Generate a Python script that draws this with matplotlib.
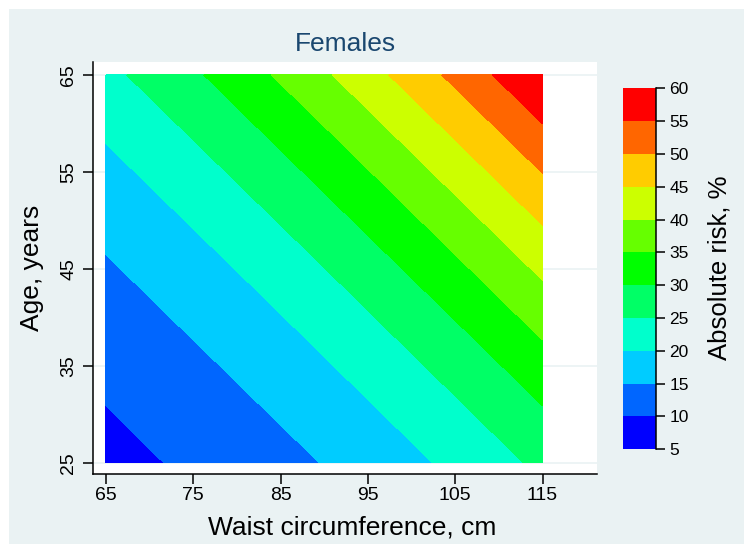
import matplotlib
matplotlib.use("Agg")
import matplotlib.pyplot as plt
from matplotlib.patches import Rectangle
import numpy as np

plt.rcParams['font.family'] = ['Liberation Sans', 'DejaVu Sans']

# ---- data (risk %) ----
waist = [65, 70, 75, 80, 85, 90, 95, 100, 105, 110, 115]
age = [25, 30, 35, 40, 45, 50, 55, 60, 65]
risk = [
    [8.56, 9.62, 10.80, 12.11, 13.57, 15.18, 16.98, 18.96, 21.14, 23.53, 26.14],
    [9.77, 10.97, 12.30, 13.78, 15.42, 17.24, 19.24, 21.45, 23.87, 26.52, 29.40],
    [11.14, 12.49, 13.99, 15.65, 17.50, 19.53, 21.77, 24.22, 26.89, 29.80, 32.95],
    [12.68, 14.21, 15.90, 17.76, 19.82, 22.09, 24.57, 27.27, 30.22, 33.40, 36.82],
    [14.43, 16.14, 18.03, 20.12, 22.41, 24.92, 27.66, 30.64, 33.85, 37.30, 40.99],
    [16.39, 18.30, 20.42, 22.74, 25.28, 28.05, 31.06, 34.31, 37.79, 41.50, 45.44],
    [18.58, 20.72, 23.07, 25.64, 28.45, 31.49, 34.77, 38.28, 42.03, 45.98, 50.13],
    [21.03, 23.41, 26.01, 28.85, 31.92, 35.23, 38.78, 42.55, 46.54, 50.71, 55.03],
    [23.75, 26.38, 29.25, 32.35, 35.70, 39.28, 43.08, 47.09, 51.29, 55.63, 60.00],
]
levels = [5, 10, 15, 20, 25, 30, 35, 40, 45, 50, 55, 60]
band_colors = ['#0000FF', '#0066FF', '#00CCFF', '#00FFCC', '#00FF66', '#00FF00',
               '#66FF00', '#CCFF00', '#FFCC00', '#FF6600', '#FF0000']
x_ticks = [65, 75, 85, 95, 105, 115]
y_ticks = [25, 35, 45, 55, 65]

W, H = 753, 553
BG = '#EAF2F3'
fig = plt.figure(figsize=(W / 100, H / 100), dpi=100, facecolor='white')
fig.patches.append(Rectangle((9 / W, 9 / H), (W - 18) / W, (H - 18) / H,
                             transform=fig.transFigure, facecolor=BG,
                             edgecolor='none', zorder=-10))

ax = fig.add_axes([93.3 / W, 1 - 474.3 / H, (597 - 93.3) / W, (474.3 - 62) / H])
ax.set_facecolor('white')
cf = ax.contourf(waist, age, np.array(risk), levels=levels, colors=band_colors,
                 antialiased=False, zorder=2)
ax.set_xlim(63.55, 121.24)
ax.set_ylim(23.80, 66.34)
ax.set_xticks(x_ticks)
ax.set_yticks(y_ticks)
ax.set_yticklabels([str(v) for v in y_ticks], rotation=90, va='center')
ax.tick_params(axis='both', direction='out', length=7, width=1.1, color='black',
               labelsize=14, labelcolor='black')
ax.tick_params(axis='x', pad=2.5)
ax.tick_params(axis='y', pad=4.5)
ax.grid(axis='y', color=BG, linewidth=1.2, zorder=0)
ax.set_axisbelow(True)
for s in ['top', 'right']:
    ax.spines[s].set_visible(False)
for s in ['left', 'bottom']:
    ax.spines[s].set_linewidth(1.1)
    ax.spines[s].set_color('black')

fig.text(345 / W, 1 - 51 / H, 'Females', ha='center', va='baseline',
         fontsize=19, color='#1A476F')
fig.text(352 / W, 1 - 535 / H, 'Waist circumference, cm', ha='center',
         va='baseline', fontsize=19, color='black')
fig.text(31.7 / W, 1 - 268 / H, 'Age, years', ha='center', va='center',
         rotation=90, fontsize=19, color='black')

cax = fig.add_axes([623 / W, 1 - 449.3 / H, (655.7 - 623) / W, (449.3 - 88.3) / H])
cb = fig.colorbar(cf, cax=cax, ticks=levels)
cb.outline.set_visible(False)
cax.plot([1, 1], [0, 1], transform=cax.transAxes, color='black', lw=1.1,
         clip_on=False, zorder=5)
cax.tick_params(axis='y', direction='out', length=6.5, width=1.1, color='black',
                labelsize=12.5, pad=3.5)
cb.set_ticklabels([str(v) for v in levels])
fig.text(719 / W, 1 - 268 / H, 'Absolute risk, %', ha='center', va='center',
         rotation=90, fontsize=18.5, color='black')

fig.savefig('out.png', dpi=100, facecolor='white')
